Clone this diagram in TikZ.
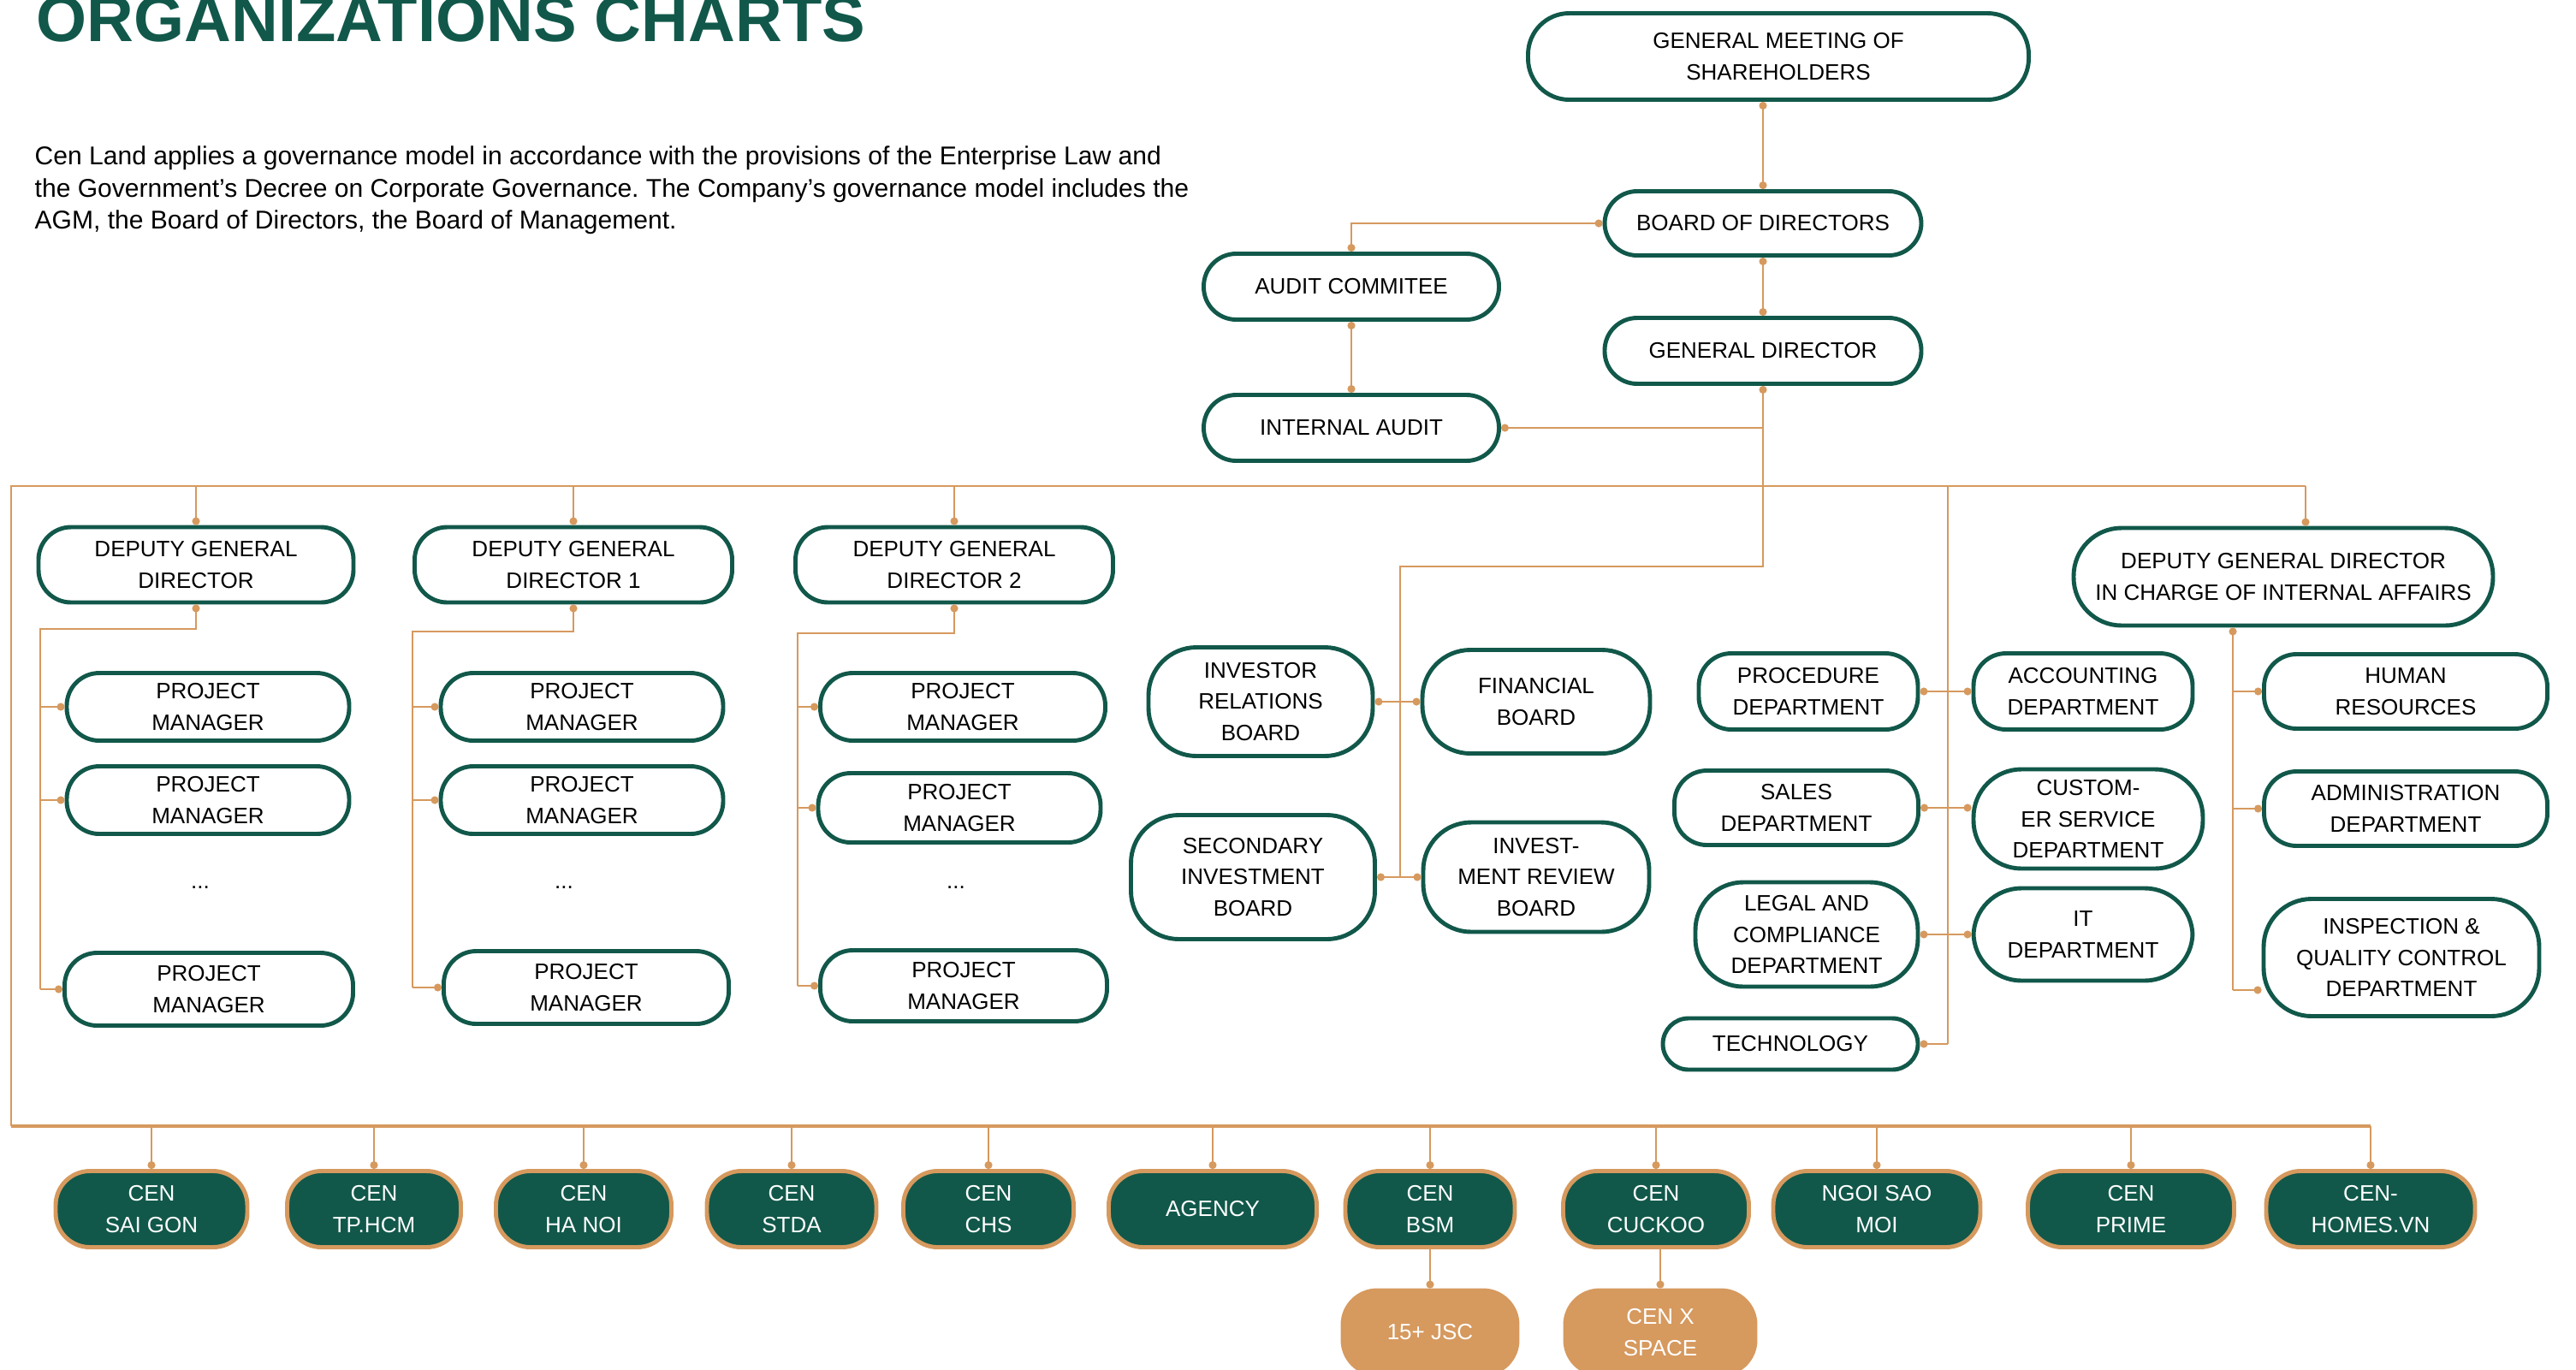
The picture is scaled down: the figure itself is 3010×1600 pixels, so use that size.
\documentclass[tikz,border=0pt]{standalone}
\usepackage{fontspec}
\setmainfont{Liberation Sans}
\usetikzlibrary{arrows.meta,positioning}
\definecolor{cgreen}{RGB}{17,88,74}
\definecolor{corange}{RGB}{214,153,94}

\begin{document}
\begin{tikzpicture}[
  x=0.1mm, y=-0.1mm,
  unit/.style={draw=cgreen, line width=1.4pt, fill=white, rounded corners=3.8mm,
    align=center, inner sep=0pt, font=\fontsize{7.4}{10.4}\selectfont},
  big/.style={unit, rounded corners=5.6mm},
  pm/.style={unit, minimum width=33mm, minimum height=7.9mm},
  firm/.style={unit, draw=corange, fill=cgreen, text=white, minimum height=8.9mm, rounded corners=4mm},
  subfirm/.style={firm, fill=corange, minimum height=9.8mm},
  link/.style={corange, line width=0.6pt},
  dd/.style={link, {Circle[length=0.9mm]}-{Circle[length=0.9mm]}},
  de/.style={link, -{Circle[length=0.9mm]}},
  ds/.style={link, {Circle[length=0.9mm]}-},
]
\useasboundingbox (0,0) rectangle (3010,1600);

% --- heading ---
\node[anchor=base west, inner sep=0pt, text=cgreen, font=\fontsize{21.6}{26}\selectfont\bfseries] (title) at (42,48) {ORGANIZATIONS CHARTS};
\node[anchor=north west, inner sep=0pt, align=left, font=\fontsize{8.55}{10.7}\selectfont\frenchspacing] (intro) at (40,170)
  {Cen Land applies a governance model in accordance with the provisions of the Enterprise Law and\\
   the Government’s Decree on Corporate Governance. The Company’s governance model includes the\\
   AGM, the Board of Directors, the Board of Management.};

% --- governance (top) ---
\node[unit, minimum width=58.5mm, minimum height=10.1mm, rounded corners=4.8mm] (gms) at (2078,66) {GENERAL MEETING OF\\SHAREHOLDERS};
\node[unit, minimum width=37mm, minimum height=7.5mm] (bod) at (2060,261) {BOARD OF DIRECTORS};
\node[unit, minimum width=37mm, minimum height=7.7mm] (gd) at (2060,410) {GENERAL DIRECTOR};
\node[unit, minimum width=34.5mm, minimum height=7.7mm] (audit) at (1579,335) {AUDIT COMMITEE};
\node[unit, minimum width=34.5mm, minimum height=7.7mm] (ia) at (1579,500) {INTERNAL AUDIT};
\draw[dd] (gms.south -| bod.north) -- (bod.north);
\draw[dd] (bod.south) -- (gd.north);
\draw[dd] (bod.west) -| (audit.north);
\draw[dd] (audit.south) -- (ia.north);
\draw[ds] (ia.east) -- (ia.east -| gd.south);

% --- buses ---
\coordinate (busL) at (13,568);
\coordinate (busR) at (2694,568);
\coordinate (lowL) at (13,1316);
\coordinate (lowR) at (2770,1316);
\coordinate (fin) at (1636,662);
\coordinate (ops) at (2276,568);
\draw[link] (busR) -- (busL) -- (lowL);
\draw[link, line width=0.9pt] (lowL) -- (lowR);

% --- deputy directors and project managers ---
\node[unit, minimum width=36.8mm, minimum height=8.8mm] (dgd0) at (229,660) {DEPUTY GENERAL\\DIRECTOR};
\node[unit, minimum width=37.1mm, minimum height=8.8mm] (dgd1) at (670,660) {DEPUTY GENERAL\\DIRECTOR 1};
\node[unit, minimum width=37.1mm, minimum height=8.8mm] (dgd2) at (1115,660) {DEPUTY GENERAL\\DIRECTOR 2};

\node[pm] (pm0a) at (243,826) {PROJECT\\MANAGER};
\node[pm] (pm0b) at (243,935) {PROJECT\\MANAGER};
\node[pm, minimum width=33.7mm, minimum height=8.5mm] (pm0c) at (244,1156) {PROJECT\\MANAGER};
\node[pm] (pm1a) at (680,826) {PROJECT\\MANAGER};
\node[pm] (pm1b) at (680,935) {PROJECT\\MANAGER};
\node[pm, minimum width=33.3mm, minimum height=8.5mm] (pm1c) at (685,1154) {PROJECT\\MANAGER};
\node[pm, minimum width=33.3mm] (pm2a) at (1125,826) {PROJECT\\MANAGER};
\node[pm, minimum height=8.1mm] (pm2b) at (1121,944) {PROJECT\\MANAGER};
\node[pm, minimum width=33.5mm, minimum height=8.3mm] (pm2c) at (1126,1152) {PROJECT\\MANAGER};
\node[font=\fontsize{7.4}{10.4}\selectfont] (etc0) at (234,1037) {...};
\node[font=\fontsize{7.4}{10.4}\selectfont] (etc1) at (659,1037) {...};
\node[font=\fontsize{7.4}{10.4}\selectfont] (etc2) at (1117,1037) {...};

\coordinate (sp0) at (47,735);
\coordinate (sp1) at (482,738);
\coordinate (sp2) at (932,740);
\draw[de] (dgd0.north |- busL) -- (dgd0.north);
\draw[de] (dgd1.north |- busL) -- (dgd1.north);
\draw[de] (dgd2.north |- busL) -- (dgd2.north);
\draw[ds] (dgd0.south) |- (sp0) -- (sp0 |- pm0c.west);
\draw[ds] (dgd1.south) |- (sp1) -- (sp1 |- pm1c.west);
\draw[ds] (dgd2.south) |- (sp2) -- (sp2 |- pm2c.west);
\draw[de] (sp0 |- pm0a.west) -- (pm0a.west);
\draw[de] (sp0 |- pm0b.west) -- (pm0b.west);
\draw[de] (sp0 |- pm0c.west) -- (pm0c.west);
\draw[de] (sp1 |- pm1a.west) -- (pm1a.west);
\draw[de] (sp1 |- pm1b.west) -- (pm1b.west);
\draw[de] (sp1 |- pm1c.west) -- (pm1c.west);
\draw[de] (sp2 |- pm2a.west) -- (pm2a.west);
\draw[de] (sp2 |- pm2b.west) -- (pm2b.west);
\draw[de] (sp2 |- pm2c.west) -- (pm2c.west);

% --- investment boards ---
\node[big, minimum width=26.2mm, minimum height=12.7mm] (irb) at (1473,820) {INVESTOR\\RELATIONS\\BOARD};
\node[big, minimum width=26.6mm, minimum height=12.1mm] (fb) at (1795,820) {FINANCIAL\\BOARD};
\node[big, minimum width=28.5mm, minimum height=14.5mm] (sib) at (1464,1025) {SECONDARY\\INVESTMENT\\BOARD};
\node[big, minimum width=26.4mm, minimum height=12.8mm] (imrb) at (1795,1025) {INVEST-\\MENT REVIEW\\BOARD};
\draw[ds] (gd.south) -- (gd.south |- fin) -- (fin) -- (fin |- sib.east);
\draw[dd] (irb.east) -- (fb.west);
\draw[dd] (sib.east) -- (imrb.west);

% --- departments ---
\node[unit, minimum width=25.6mm, minimum height=8.9mm] (proc) at (2113,808) {PROCEDURE\\DEPARTMENT};
\node[unit, minimum width=25.6mm, minimum height=8.9mm] (acc) at (2434,808) {ACCOUNTING\\DEPARTMENT};
\node[unit, minimum width=28.5mm, minimum height=8.7mm] (sales) at (2099,944) {SALES\\DEPARTMENT};
\node[big, minimum width=26.8mm, minimum height=11.6mm] (cust) at (2440,957) {CUSTOM-\\ER SERVICE\\DEPARTMENT};
\node[big, minimum width=26mm, minimum height=12.2mm] (legal) at (2111,1092) {LEGAL AND\\COMPLIANCE\\DEPARTMENT};
\node[big, minimum width=25.6mm, minimum height=10.8mm] (it) at (2434,1092) {IT\\DEPARTMENT};
\node[unit, minimum width=29.8mm, minimum height=6mm, rounded corners=3mm] (tech) at (2092,1220) {TECHNOLOGY};
\draw[link] (ops) -- (ops |- tech.east);
\draw[dd] (proc.east) -- (acc.west);
\draw[dd] (sales.east) -- (sales.east -| cust.west);
\draw[dd] (legal.east) -- (it.west);
\draw[de] (ops |- tech.east) -- (tech.east);

% --- internal affairs ---
\node[big, minimum width=49mm, minimum height=11.4mm] (dgdi) at (2668,674) {DEPUTY GENERAL DIRECTOR\\IN CHARGE OF INTERNAL AFFAIRS};
\node[unit, minimum width=33.1mm, minimum height=8.7mm] (hr) at (2811,808) {HUMAN\\RESOURCES};
\node[unit, minimum width=33.1mm, minimum height=8.7mm] (adm) at (2811,945) {ADMINISTRATION\\DEPARTMENT};
\node[big, minimum width=32.2mm, minimum height=13.7mm] (insp) at (2806,1119) {INSPECTION \&\\QUALITY CONTROL\\DEPARTMENT};
\coordinate (insq) at (2609,1157);
\draw[de] (busR) -- (busR |- dgdi.north);
\draw[ds] (dgdi.south -| insq) -- (insq);
\draw[de] (insq |- hr.west) -- (hr.west);
\draw[de] (insq |- adm.west) -- (adm.west);
\draw[de] (insq) -- (insq -| insp.west);

% --- subsidiaries (bottom) ---
\node[firm, minimum width=22.4mm] (saigon) at (177,1413) {CEN\\SAI GON};
\node[firm, minimum width=20.3mm] (tphcm) at (437,1413) {CEN\\TP.HCM};
\node[firm, minimum width=20.5mm] (hanoi) at (682,1413) {CEN\\HA NOI};
\node[firm, minimum width=19.8mm] (stda) at (925,1413) {CEN\\STDA};
\node[firm, minimum width=19.9mm] (chs) at (1155,1413) {CEN\\CHS};
\node[firm, minimum width=24.3mm] (agency) at (1417,1413) {AGENCY};
\node[firm, minimum width=19.8mm] (bsm) at (1671,1413) {CEN\\BSM};
\node[firm, minimum width=21.7mm] (cuckoo) at (1935,1413) {CEN\\CUCKOO};
\node[firm, minimum width=24.2mm] (ngoi) at (2193,1413) {NGOI SAO\\MOI};
\node[firm, minimum width=24.1mm] (prime) at (2490,1413) {CEN\\PRIME};
\node[firm, minimum width=24.4mm] (homes) at (2770,1413) {CEN-\\HOMES.VN};
\node[subfirm, minimum width=20.4mm] (jsc) at (1671,1557) {15+ JSC};
\node[subfirm, minimum width=22.2mm] (cenx) at (1940,1557) {CEN X\\SPACE};
\foreach \f in {saigon,tphcm,hanoi,stda,chs,agency,bsm,cuckoo,ngoi,prime,homes}
  \draw[de] (\f.north |- lowL) -- (\f.north);
\draw[de] (bsm.south) -- (jsc.north);
\draw[de] (cuckoo.south -| cenx.north) -- (cenx.north);
\end{tikzpicture}
\end{document}
